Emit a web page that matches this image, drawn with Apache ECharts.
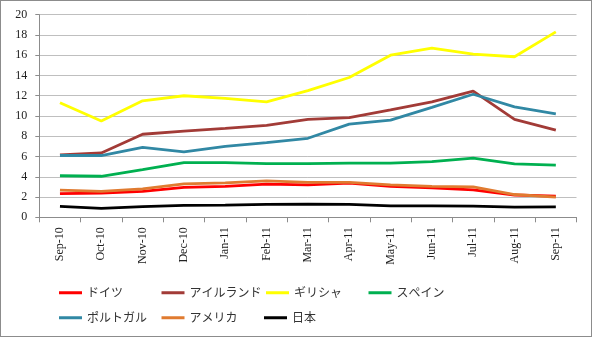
<!DOCTYPE html>
<html>
<head>
<meta charset="utf-8">
<script src="https://cdn.jsdelivr.net/npm/echarts@6/dist/echarts.min.js"></script>
<style>
  html, body { margin: 0; padding: 0; background: #fff; }
  #frame { width: 592px; height: 337px; box-sizing: border-box; border: 1px solid #8c8c8c; position: relative; }
  #chart { position: absolute; left: -1px; top: -1px; width: 592px; height: 337px; }
</style>
</head>
<body>
<div id="frame"><div id="chart"></div></div>
<script>
// Monthly categories
const months = ['Sep-10','Oct-10','Nov-10','Dec-10','Jan-11','Feb-11','Mar-11','Apr-11','May-11','Jun-11','Jul-11','Aug-11','Sep-11'];

// Values per country
const germany  = [2.33, 2.39, 2.56, 2.95, 3.05, 3.28, 3.2, 3.38, 3.05, 2.9, 2.7, 2.2, 2.1];
const ireland  = [6.15, 6.35, 8.2, 8.5, 8.78, 9.08, 9.67, 9.84, 10.6, 11.4, 12.45, 9.67, 8.6];
const greece   = [11.3, 9.5, 11.5, 12.0, 11.75, 11.4, 12.5, 13.8, 16.0, 16.7, 16.1, 15.85, 18.3];
const spain    = [4.1, 4.05, 4.7, 5.4, 5.4, 5.3, 5.3, 5.35, 5.35, 5.5, 5.85, 5.28, 5.15];
const portugal = [6.1, 6.1, 6.9, 6.45, 7.0, 7.38, 7.8, 9.2, 9.6, 10.85, 12.15, 10.9, 10.2];
const usa      = [2.69, 2.56, 2.8, 3.3, 3.4, 3.6, 3.45, 3.44, 3.2, 3.05, 3.0, 2.25, 2.0];
const japan    = [1.08, 0.88, 1.05, 1.18, 1.2, 1.28, 1.3, 1.28, 1.12, 1.12, 1.1, 1.0, 1.02];

const seriesNames = ['ドイツ', 'アイルランド', 'ギリシャ', 'スペイン', 'ポルトガル', 'アメリカ', '日本'];
const seriesData = [germany, ireland, greece, spain, portugal, usa, japan];
const seriesColors = ['#ff0000', '#a23b37', '#ffff00', '#00b050', '#3188a4', '#e07b30', '#000000'];

const yTicks = { min: 0, max: 20, interval: 2 };

const chart = echarts.init(document.getElementById('chart'), null, { renderer: 'canvas' });

const latinFont = '"Liberation Serif", "DejaVu Serif", serif';
const cjkFont = '"Noto Sans CJK JP", sans-serif';

chart.setOption({
  animation: false,
  backgroundColor: 'transparent',
  grid: { left: 39.3, right: 15.5, top: 14.7, bottom: 119.7, containLabel: false },
  legend: {
    data: seriesNames,
    left: 59,
    top: 282.5,
    width: 420,
    padding: 0,
    orient: 'horizontal',
    icon: 'rect',
    itemWidth: 23,
    itemHeight: 3,
    itemGap: 4.5,
    selectedMode: false,
    textStyle: { fontFamily: cjkFont, fontSize: 12, color: '#333', width: 70, lineHeight: 20.5 }
  },
  xAxis: {
    type: 'category',
    data: months,
    boundaryGap: true,
    axisLine: { lineStyle: { color: '#8c8c8c', width: 1 } },
    axisTick: { show: true, length: 5, alignWithLabel: false, lineStyle: { color: '#8c8c8c' } },
    axisLabel: { rotate: 90, margin: 10, fontFamily: latinFont, fontSize: 12, color: '#222', interval: 0 },
    splitLine: { show: false }
  },
  yAxis: {
    type: 'value',
    min: yTicks.min,
    max: yTicks.max,
    interval: yTicks.interval,
    axisLine: { show: true, lineStyle: { color: '#8c8c8c', width: 1 } },
    axisTick: { show: true, length: 4, lineStyle: { color: '#8c8c8c' } },
    axisLabel: { margin: 12, fontFamily: latinFont, fontSize: 12, color: '#222' },
    splitLine: { show: true, lineStyle: { color: '#bfbfbf', width: 1 } }
  },
  series: seriesNames.map((name, i) => ({
    name: name,
    type: 'line',
    data: seriesData[i],
    symbol: 'none',
    smooth: false,
    color: seriesColors[i],
    lineStyle: { width: 2.8, color: seriesColors[i] }
  }))
});
</script>
</body>
</html>
